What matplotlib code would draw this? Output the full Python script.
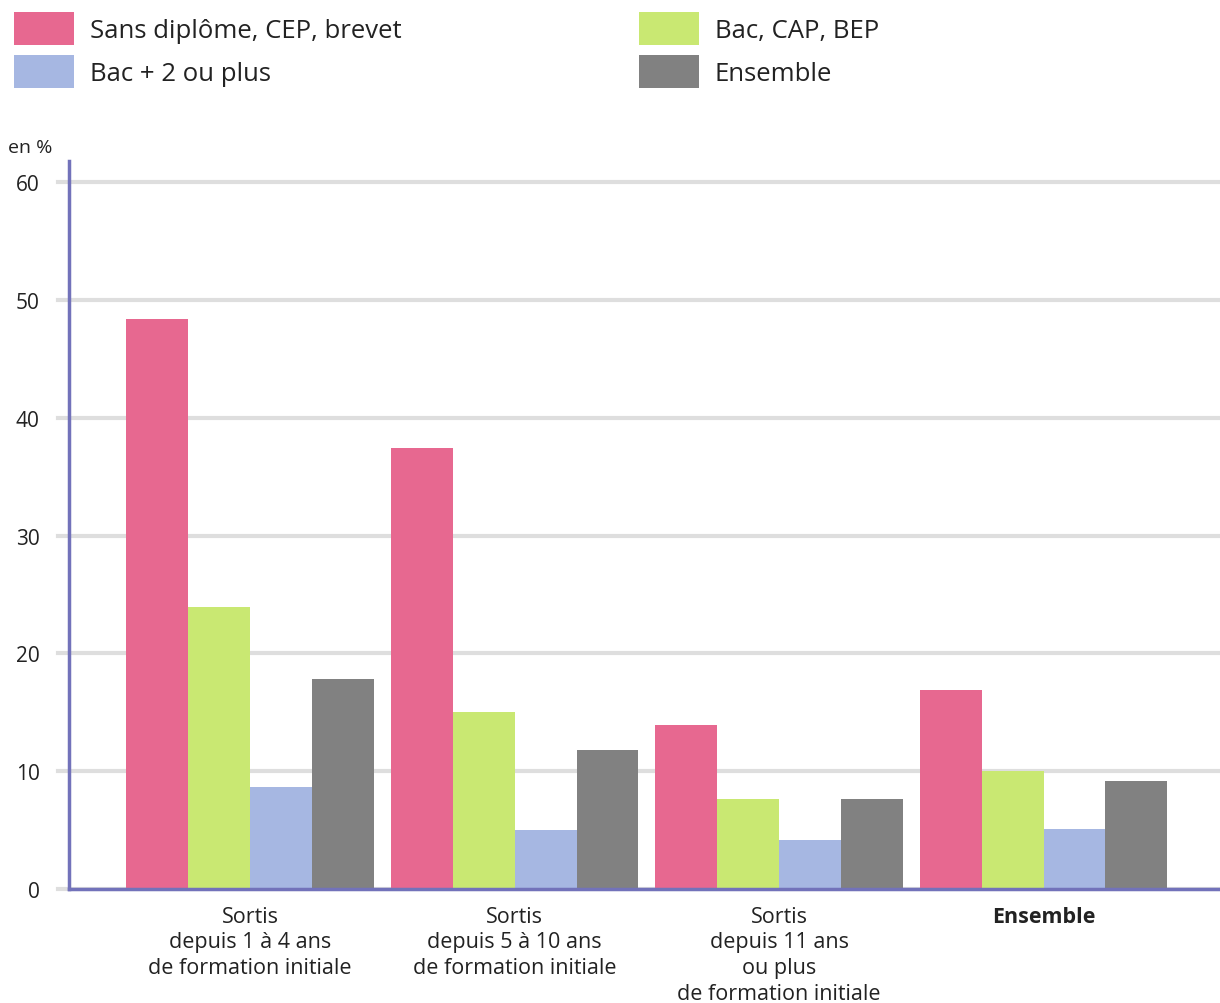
import matplotlib
matplotlib.use("Agg")
import matplotlib.pyplot as plt
from matplotlib.patches import Patch
import numpy as np

plt.rcParams['font.family'] = ['Open Sans', 'DejaVu Sans']

categories = ["Sortis\ndepuis 1 à 4 ans\nde formation initiale",
              "Sortis\ndepuis 5 à 10 ans\nde formation initiale",
              "Sortis\ndepuis 11 ans\nou plus\nde formation initiale",
              "Ensemble"]
series_names = ["Sans diplôme, CEP, brevet", "Bac, CAP, BEP", "Bac + 2 ou plus", "Ensemble"]
sans_diplome = [48.4, 37.4, 13.9, 16.9]
bac_cap_bep = [23.9, 15.0, 7.6, 10.0]
bac_plus_2 = [8.7, 5.0, 4.2, 5.1]
ensemble = [17.8, 11.8, 7.6, 9.2]
yticks = [0, 10, 20, 30, 40, 50, 60]

colors = ["#E76890", "#C9E872", "#A6B7E2", "#818181"]
values = [sans_diplome, bac_cap_bep, bac_plus_2, ensemble]

W, H = 1220, 1004
fig = plt.figure(figsize=(W / 100, H / 100), dpi=100)
ax = fig.add_axes([69 / W, (H - 890) / H, (1220 - 69) / W, (890 - 162) / H])

x = np.arange(len(categories))
bw = 0.234
handles = []
for i, (vals, c, name) in enumerate(zip(values, colors, series_names)):
    ax.bar(x + (i - 1.5) * bw, vals, width=bw, color=c, zorder=3, linewidth=0)
    handles.append(Patch(facecolor=c, edgecolor='none', label=name))

ax.set_xlim(-0.685, 3.667)
ax.set_ylim(0, 61.8)
ax.set_yticks(yticks)
ax.set_yticklabels([str(t) for t in yticks], fontsize=15, color="#222222")
for t in yticks:
    ax.axhline(t, xmin=-0.0096, xmax=1, color="#DEDEDE", linewidth=3, zorder=1, clip_on=False)

ax.set_xticks(x)
ax.set_xticklabels(categories, fontsize=15.5, color="#222222", linespacing=1.29, va='top')
ax.get_xticklabels()[3].set_fontweight('bold')
ax.tick_params(axis='x', length=0, pad=12)
ax.tick_params(axis='y', length=0, pad=21)

for s in ['top', 'right']:
    ax.spines[s].set_visible(False)
ax.spines['left'].set_color("#7272BA")
ax.spines['left'].set_linewidth(2.5)
ax.spines['bottom'].set_color("#7272BA")
ax.spines['bottom'].set_linewidth(2.5)
ax.spines['bottom'].set_zorder(4)

fig.text(8 / W, 1 - 148 / H, "en %", fontsize=14, color="#222222", va='center', ha='left')

order = [0, 2, 1, 3]
fig.legend([handles[k] for k in order], [series_names[k] for k in order],
           ncol=2, loc='upper left', bbox_to_anchor=(14 / W, 1 - 13 / H),
           frameon=False, fontsize=18.5, handlelength=2.33, handleheight=1.62,
           handletextpad=0.62, columnspacing=9.25, labelspacing=0.36,
           borderaxespad=0, borderpad=0, labelcolor="#222222")

fig.savefig("out.png", dpi=100, facecolor='white')
